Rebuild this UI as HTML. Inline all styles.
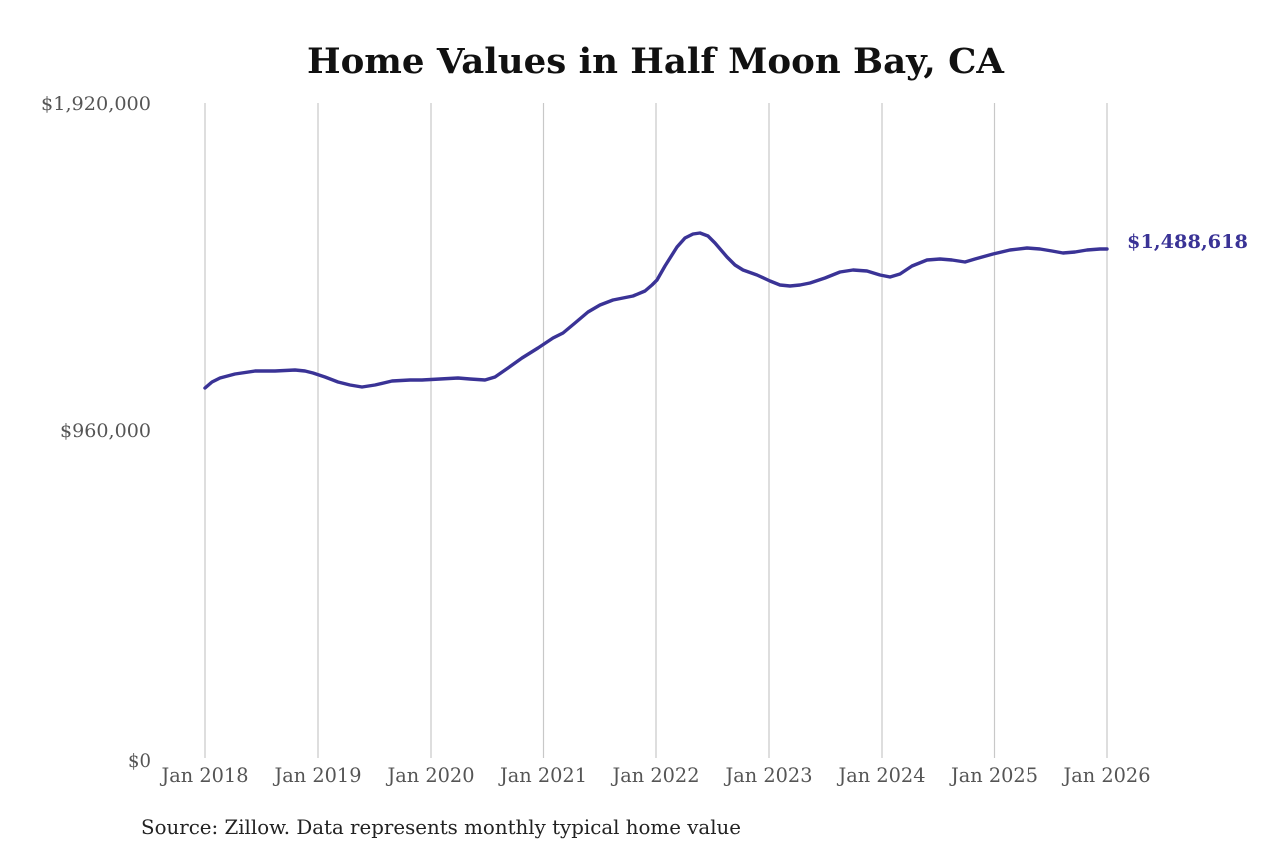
<!DOCTYPE html>
<html>
<head>
<meta charset="utf-8">
<style>
  html, body { margin: 0; padding: 0; background: #ffffff; }
  svg { display: block; }
  text { font-family: "DejaVu Serif", "Liberation Serif", serif; }
</style>
</head>
<body>
<svg width="1280" height="853" viewBox="0 0 1280 853" xmlns="http://www.w3.org/2000/svg">
  <rect width="1280" height="853" fill="#ffffff"/>

  <!-- Title -->
  <text x="655.5" y="73" text-anchor="middle" font-size="35" font-weight="bold" fill="#111111" textLength="697" lengthAdjust="spacingAndGlyphs">Home Values in Half Moon Bay, CA</text>

  <!-- Vertical gridlines -->
  <g stroke="#c8c8c8" stroke-width="1.2">
    <line x1="205" y1="103" x2="205" y2="758"/>
    <line x1="318" y1="103" x2="318" y2="758"/>
    <line x1="431" y1="103" x2="431" y2="758"/>
    <line x1="543.5" y1="103" x2="543.5" y2="758"/>
    <line x1="656" y1="103" x2="656" y2="758"/>
    <line x1="769" y1="103" x2="769" y2="758"/>
    <line x1="882" y1="103" x2="882" y2="758"/>
    <line x1="994.5" y1="103" x2="994.5" y2="758"/>
    <line x1="1107" y1="103" x2="1107" y2="758"/>
  </g>

  <!-- Y axis labels -->
  <g font-size="19" fill="#555555" text-anchor="end">
    <text x="151" y="110" textLength="110" lengthAdjust="spacingAndGlyphs">$1,920,000</text>
    <text x="151" y="437" textLength="91" lengthAdjust="spacingAndGlyphs">$960,000</text>
    <text x="151" y="767" textLength="23" lengthAdjust="spacingAndGlyphs">$0</text>
  </g>

  <!-- X axis labels -->
  <g font-size="19.5" fill="#555555" text-anchor="middle">
    <text x="205" y="782" textLength="87" lengthAdjust="spacingAndGlyphs">Jan 2018</text>
    <text x="318" y="782" textLength="87" lengthAdjust="spacingAndGlyphs">Jan 2019</text>
    <text x="431" y="782" textLength="87" lengthAdjust="spacingAndGlyphs">Jan 2020</text>
    <text x="543.5" y="782" textLength="87" lengthAdjust="spacingAndGlyphs">Jan 2021</text>
    <text x="656" y="782" textLength="87" lengthAdjust="spacingAndGlyphs">Jan 2022</text>
    <text x="769" y="782" textLength="87" lengthAdjust="spacingAndGlyphs">Jan 2023</text>
    <text x="882" y="782" textLength="87" lengthAdjust="spacingAndGlyphs">Jan 2024</text>
    <text x="994.5" y="782" textLength="87" lengthAdjust="spacingAndGlyphs">Jan 2025</text>
    <text x="1107" y="782" textLength="87" lengthAdjust="spacingAndGlyphs">Jan 2026</text>
  </g>

  <!-- Data line -->
  <polyline fill="none" stroke="#3a3396" stroke-width="3.4" stroke-linejoin="round" stroke-linecap="round"
    points="205,388 212,382 220,378 235,374 255,371 275,371 295,370 305,371 313,373 325,377 338,382 350,385 362,387 375,385 392,381 410,380 422,380 440,379 458,378 470,379 485,380 495,377 508,368 522,358 538,348 553,338 563,333 575,323 588,312 600,305 613,300 633,296 645,291 652,285 657,280 665,266 677,247 685,238 693,234 700,233 708,236 715,243 727,257 735,265 743,270 757,275 770,281 780,285 790,286 800,285 810,283 825,278 840,272 853,270 867,271 880,275 890,277 900,274 912,266 927,260 940,259 952,260 965,262 975,259 993,254 1010,250 1027,248 1040,249 1052,251 1063,253 1075,252 1087,250 1100,249 1107,249"/>

  <!-- End label -->
  <text x="1127" y="248" font-size="19" font-weight="bold" fill="#3a3396" textLength="121" lengthAdjust="spacingAndGlyphs">$1,488,618</text>

  <!-- Source -->
  <text x="141" y="834" font-size="20" fill="#222222" textLength="600" lengthAdjust="spacingAndGlyphs">Source: Zillow. Data represents monthly typical home value</text>
</svg>
</body>
</html>
